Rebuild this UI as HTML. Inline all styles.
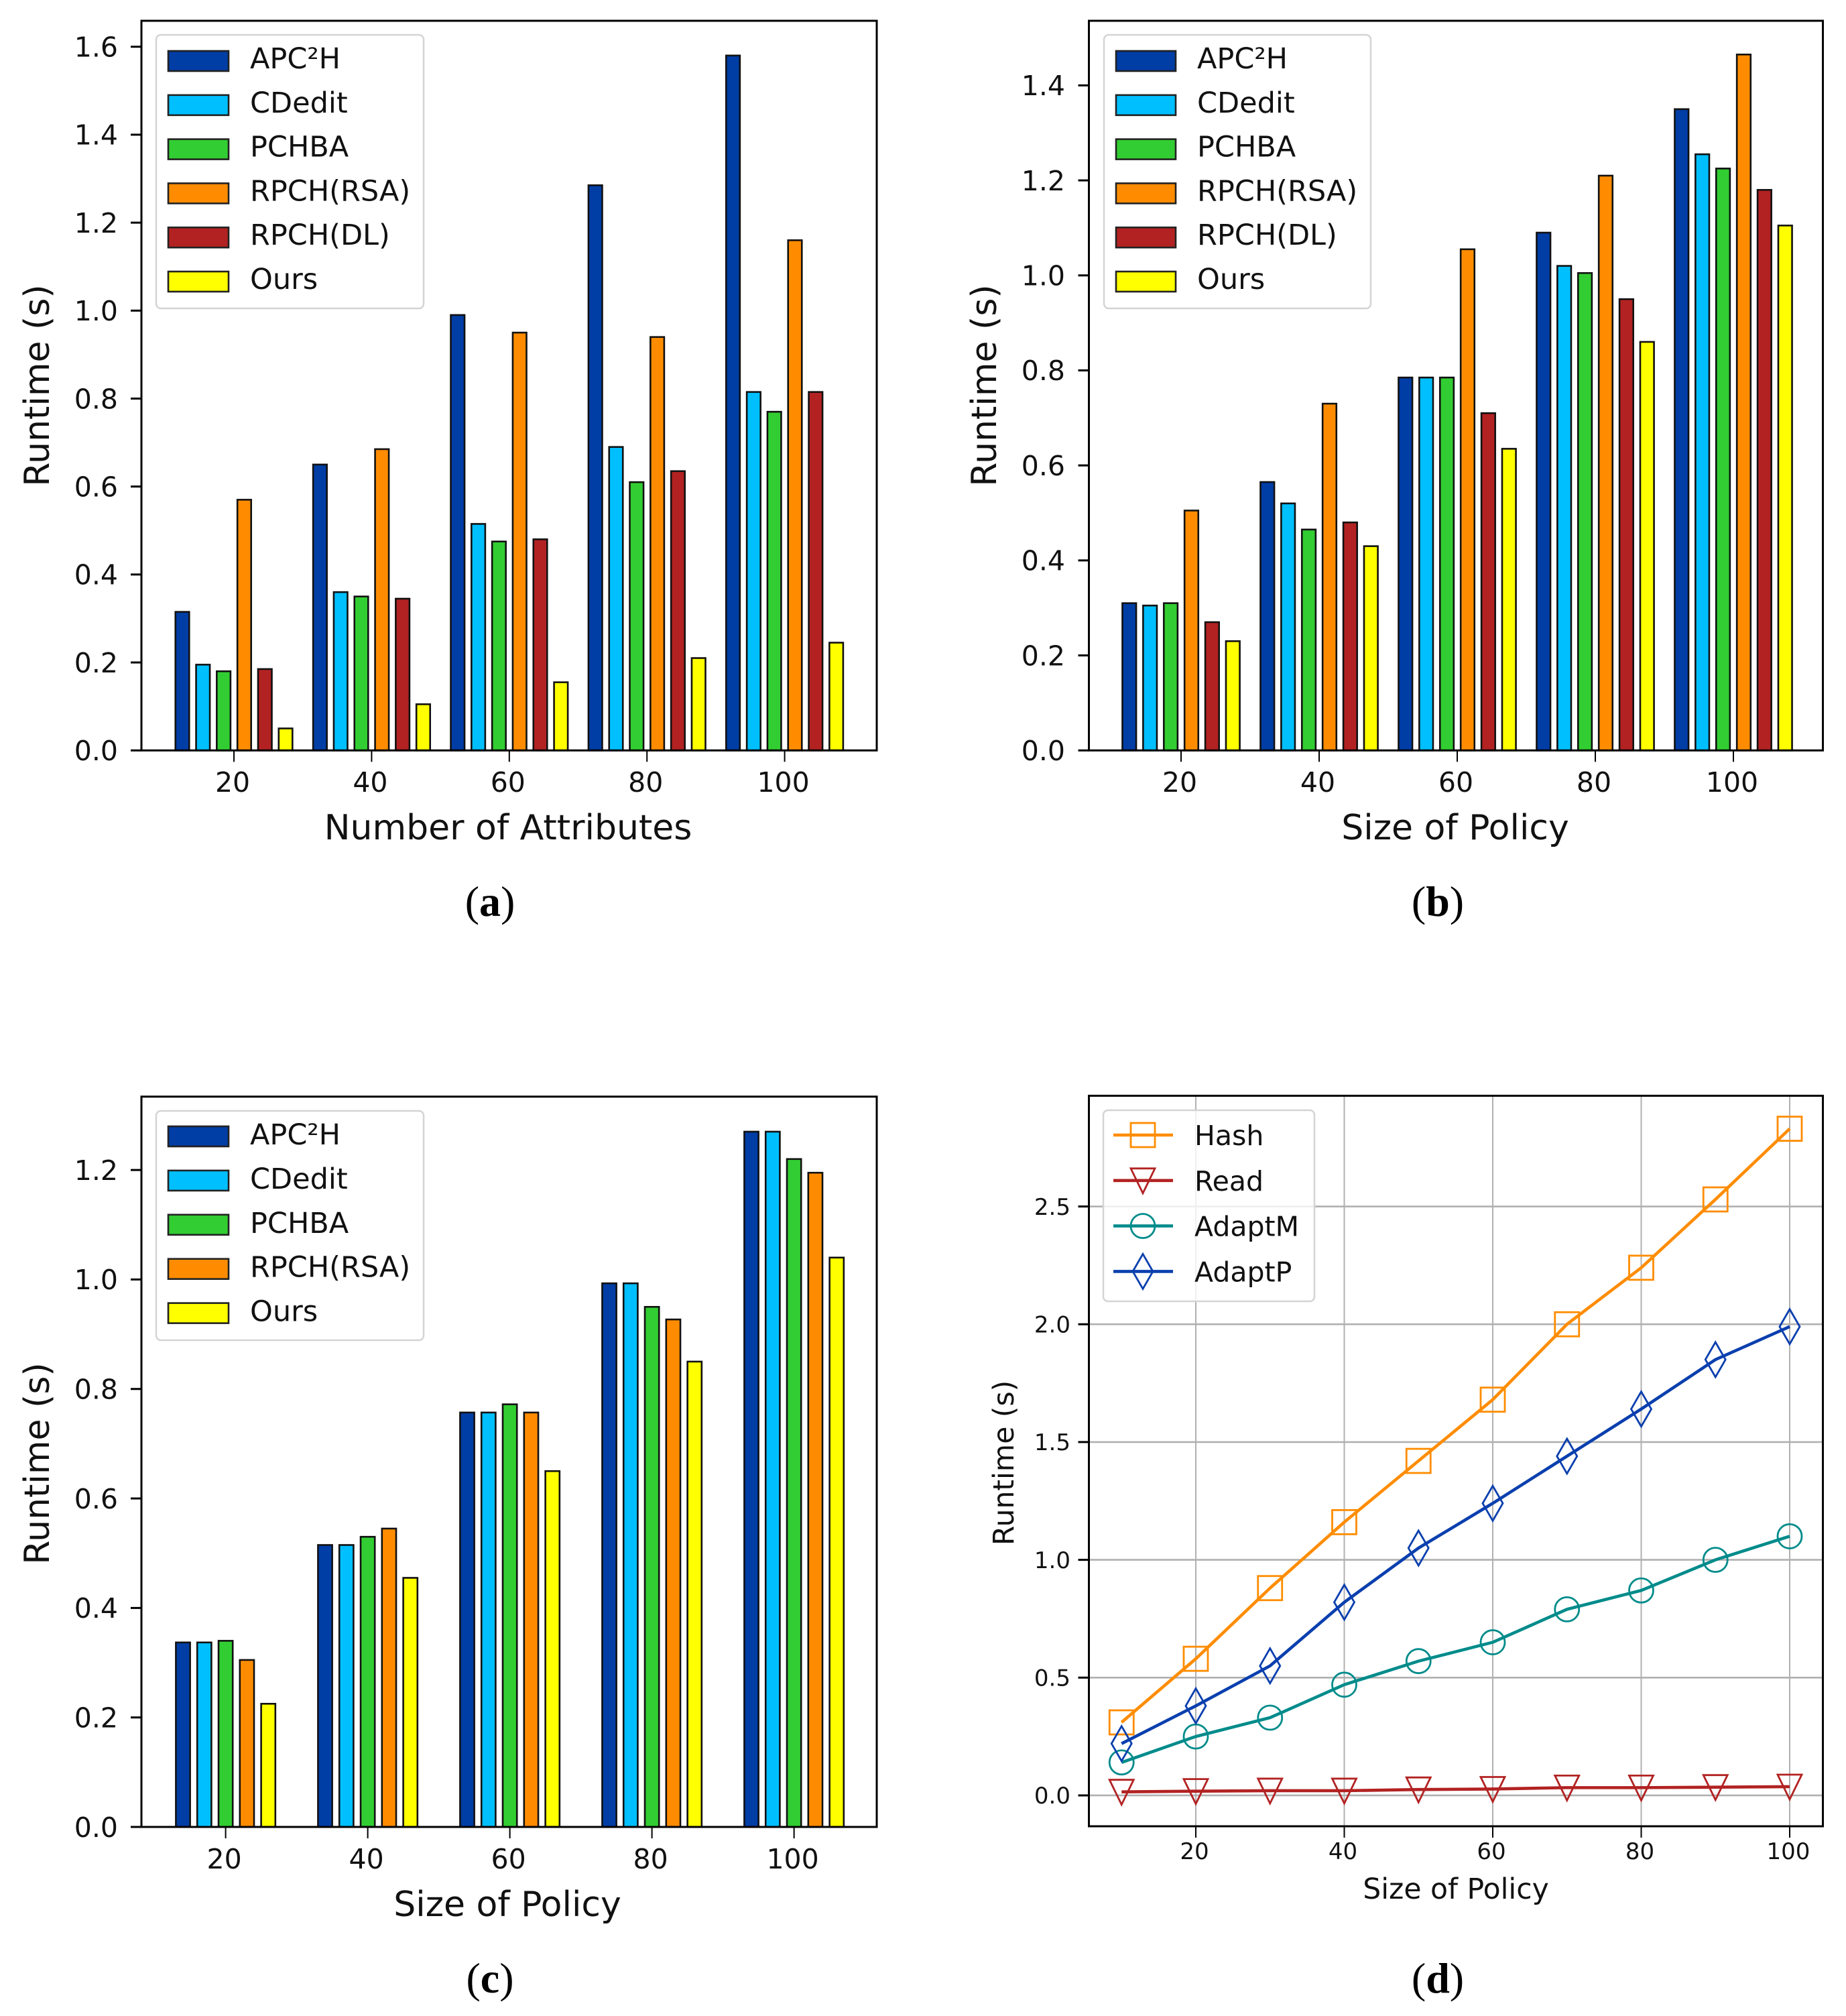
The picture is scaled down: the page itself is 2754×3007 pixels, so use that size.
<!DOCTYPE html>
<html lang="en">
<head>
<meta charset="utf-8">
<title>Runtime comparison charts</title>
<style>
html,body{margin:0;padding:0;background:#fff;width:2754px;height:3007px;overflow:hidden}
svg{display:block}
text{font-family:"DejaVu Sans","Liberation Sans",sans-serif;fill:#111}
.cap{font-family:"Liberation Serif",serif;font-size:64px;fill:#000}
</style>
</head>
<body>
<svg id="fig" xmlns="http://www.w3.org/2000/svg" width="2754" height="3007" viewBox="0 0 2754 3007">
<rect x="0" y="0" width="2754" height="3007" fill="#fff"/>
<text class="cap" x="731" y="1366" text-anchor="middle">(<tspan font-weight="bold">a</tspan>)</text>
<text class="cap" x="2145" y="1366" text-anchor="middle">(<tspan font-weight="bold">b</tspan>)</text>
<text class="cap" x="731" y="2972" text-anchor="middle">(<tspan font-weight="bold">c</tspan>)</text>
<text class="cap" x="2145" y="2972" text-anchor="middle">(<tspan font-weight="bold">d</tspan>)</text>
</svg>
<script>
// Panel (a)
const categoriesA = [20, 40, 60, 80, 100];
const apc2hA = [0.315, 0.65, 0.99, 1.285, 1.58];
const cdeditA = [0.195, 0.36, 0.515, 0.69, 0.815];
const pchbaA = [0.18, 0.35, 0.475, 0.61, 0.77];
const rpchRsaA = [0.57, 0.685, 0.95, 0.94, 1.16];
const rpchDlA = [0.185, 0.345, 0.48, 0.635, 0.815];
const oursA = [0.05, 0.105, 0.155, 0.21, 0.245];
const yTicksA = ["0.0", "0.2", "0.4", "0.6", "0.8", "1.0", "1.2", "1.4", "1.6"];

// Panel (b)
const categoriesB = [20, 40, 60, 80, 100];
const apc2hB = [0.31, 0.565, 0.785, 1.09, 1.35];
const cdeditB = [0.305, 0.52, 0.785, 1.02, 1.255];
const pchbaB = [0.31, 0.465, 0.785, 1.005, 1.225];
const rpchRsaB = [0.505, 0.73, 1.055, 1.21, 1.465];
const rpchDlB = [0.27, 0.48, 0.71, 0.95, 1.18];
const oursB = [0.23, 0.43, 0.635, 0.86, 1.105];
const yTicksB = ["0.0", "0.2", "0.4", "0.6", "0.8", "1.0", "1.2", "1.4"];

// Panel (c)
const categoriesC = [20, 40, 60, 80, 100];
const apc2hC = [0.337, 0.515, 0.757, 0.993, 1.27];
const cdeditC = [0.337, 0.515, 0.757, 0.993, 1.27];
const pchbaC = [0.34, 0.53, 0.772, 0.95, 1.22];
const rpchRsaC = [0.305, 0.545, 0.757, 0.927, 1.195];
const oursC = [0.225, 0.455, 0.65, 0.85, 1.04];
const yTicksC = ["0.0", "0.2", "0.4", "0.6", "0.8", "1.0", "1.2"];

// Panel (d)
const policySizesD = [10, 20, 30, 40, 50, 60, 70, 80, 90, 100];
const hashD = [0.31, 0.58, 0.88, 1.16, 1.42, 1.68, 2.0, 2.24, 2.53, 2.83];
const readD = [0.015, 0.018, 0.02, 0.02, 0.025, 0.027, 0.033, 0.033, 0.035, 0.037];
const adaptMD = [0.14, 0.25, 0.33, 0.47, 0.57, 0.65, 0.79, 0.87, 1.0, 1.1];
const adaptPD = [0.22, 0.38, 0.55, 0.82, 1.05, 1.24, 1.44, 1.64, 1.85, 1.99];
const xTicksD = ["20", "40", "60", "80", "100"];
const yTicksD = ["0.0", "0.5", "1.0", "1.5", "2.0", "2.5"];

const BLUE = "#003da5", CYAN = "#00bfff", GREEN = "#32cd32", ORANGE = "#ff8c00", RED = "#b22222", YELLOW = "#ffff00", TEAL = "#008b8b", LBLUE = "#0a3fae";
const NS = "http://www.w3.org/2000/svg";
const fig = document.getElementById("fig");

function mk(parent, tag, attrs, name, text) {
  const el = document.createElementNS(NS, tag);
  for (const k in attrs) el.setAttribute(k, attrs[k]);
  
  
  if (text !== undefined) el.textContent = text;
  parent.appendChild(el);
  return el;
}

function makeAxes(o) {
  const g = mk(fig, "g", {}, "panel-" + o.id);
  const x = v => o.left + (v - o.xDomain[0]) / (o.xDomain[1] - o.xDomain[0]) * (o.right - o.left);
  const y = v => o.bottom - (v - o.yDomain[0]) / (o.yDomain[1] - o.yDomain[0]) * (o.bottom - o.top);
  return { g, x, y };
}

function drawFrame(o, ax, xLabels, yLabels) {
  const g = ax.g;
  // ticks + labels
  xLabels.forEach(lbl => {
    const px = ax.x(parseFloat(lbl));
    mk(g, "line", { x1: px, x2: px, y1: o.bottom, y2: o.bottom + 17, stroke: "#000", "stroke-width": 2 }, "x-tick-" + lbl);
    mk(g, "text", { x: px - 2, y: o.xTickBase, "text-anchor": "middle", "font-size": o.tickFont }, "x-tick-label-" + lbl, lbl);
  });
  yLabels.forEach(lbl => {
    const py = ax.y(parseFloat(lbl));
    mk(g, "line", { x1: o.left - 16, x2: o.left, y1: py, y2: py, stroke: "#000", "stroke-width": 3 }, "y-tick-" + lbl);
    mk(g, "text", { x: o.yTickRight, y: py + o.tickFont * 0.36, "text-anchor": "end", "font-size": o.tickFont }, "y-tick-label-" + lbl, lbl);
  });
  // spines
  mk(g, "rect", { x: o.left, y: o.top, width: o.right - o.left, height: o.bottom - o.top, fill: "none", stroke: "#000", "stroke-width": 3 }, "plot-frame");
  // titles
  mk(g, "text", { x: o.xLabelX, y: o.xLabelY, "text-anchor": "middle", "font-size": o.xLabelFont }, "x-axis-title", o.xLabel);
  mk(g, "text", { transform: "translate(" + o.yLabelX + "," + o.yLabelY + ") rotate(-90)", "text-anchor": "middle", "font-size": o.yLabelFont }, "y-axis-title", "Runtime (s)");
}

function drawBars(o, ax, categories, series, offsets) {
  series.forEach((s, si) => {
    const sg = mk(ax.g, "g", {}, "series-" + s.key);
    categories.forEach((c, ci) => {
      const px = ax.x(c + offsets[si] - 1);
      const py = ax.y(s.values[ci]);
      mk(sg, "rect", {
        x: px, y: py,
        width: ax.x(c + offsets[si] + 1) - px,
        height: ax.y(0) - py,
        fill: s.color, stroke: "#111", "stroke-width": 2.6
      }, "bar-" + s.key + "-" + c);
    });
  });
}

function drawBarLegend(o, ax, series) {
  const lg = mk(ax.g, "g", {}, "legend");
  mk(lg, "rect", { x: o.leg.x, y: o.leg.y, width: o.leg.w, height: o.leg.h, rx: 7, fill: "#fff", "fill-opacity": 0.8, stroke: "#d4d4d4", "stroke-width": 2.5 }, "legend-frame");
  series.forEach((s, i) => {
    const eg = mk(lg, "g", {}, "legend-entry-" + s.key);
    mk(eg, "rect", { x: o.leg.px, y: o.leg.py + i * o.leg.step, width: o.leg.pw, height: 30, fill: s.color, stroke: "#222", "stroke-width": 2.6 }, "legend-swatch-" + s.key);
    mk(eg, "text", { x: o.leg.tx, y: o.leg.ty + i * o.leg.step, "font-size": o.leg.font, fill: "#222" }, "legend-label-" + s.key, s.label);
  });
}

function marker(parent, kind, cx, cy, color, name) {
  const base = { fill: "none", stroke: color, "stroke-width": 2.8 };
  if (kind === "square") {
    mk(parent, "rect", Object.assign({ x: cx - 18, y: cy - 18, width: 36, height: 36 }, base), name);
  } else if (kind === "circle") {
    mk(parent, "ellipse", Object.assign({ cx: cx, cy: cy, rx: 18, ry: 18 }, base), name);
  } else if (kind === "diamond") {
    const pts = [cx, cy - 26, cx + 15, cy, cx, cy + 26, cx - 15, cy].join(" ");
    mk(parent, "polygon", Object.assign({ points: pts }, base), name);
  } else {
    const pts = [cx - 18, cy - 18, cx + 18, cy - 18, cx, cy + 19].join(" ");
    mk(parent, "polygon", Object.assign({ points: pts }, base), name);
  }
}

const attrLabels = ["APC²H", "CDedit", "PCHBA", "RPCH(RSA)", "RPCH(DL)", "Ours"];
const sixOffsets = [-7.5, -4.5, -1.5, 1.5, 4.5, 7.5];
const fiveOffsets = [-6, -3, 0, 3, 6];

// ---- Panel a
const cfgA = {
  id: "a", left: 211, right: 1308, top: 31, bottom: 1119.3,
  xDomain: [6.56, 113.38], yDomain: [0, 1.659],
  tickFont: 41, xTickBase: 1181, yTickRight: 176,
  xLabel: "Number of Attributes", xLabelX: 758, xLabelY: 1252, xLabelFont: 52,
  yLabelX: 73, yLabelY: 575, yLabelFont: 52,
  leg: { x: 233, y: 52, w: 399, h: 408, px: 251, py: 76, pw: 90, step: 65.8, tx: 373, ty: 102, font: 43 }
};
const axA = makeAxes(cfgA);
const seriesA = [
  { key: "apc2h", label: attrLabels[0], color: BLUE, values: apc2hA },
  { key: "cdedit", label: attrLabels[1], color: CYAN, values: cdeditA },
  { key: "pchba", label: attrLabels[2], color: GREEN, values: pchbaA },
  { key: "rpch-rsa", label: attrLabels[3], color: ORANGE, values: rpchRsaA },
  { key: "rpch-dl", label: attrLabels[4], color: RED, values: rpchDlA },
  { key: "ours", label: attrLabels[5], color: YELLOW, values: oursA }
];
drawBars(cfgA, axA, categoriesA, seriesA, sixOffsets);
drawFrame(cfgA, axA, categoriesA.map(String), yTicksA);
drawBarLegend(cfgA, axA, seriesA);

// ---- Panel b
const cfgB = {
  id: "b", left: 1624.5, right: 2719.5, top: 31, bottom: 1119.3,
  xDomain: [6.65, 112.96], yDomain: [0, 1.536],
  tickFont: 41, xTickBase: 1181, yTickRight: 1589,
  xLabel: "Size of Policy", xLabelX: 2171, xLabelY: 1252, xLabelFont: 52,
  yLabelX: 1486, yLabelY: 575, yLabelFont: 52,
  leg: { x: 1647, y: 52, w: 398, h: 408, px: 1665, py: 76, pw: 89, step: 65.8, tx: 1786, ty: 102, font: 43 }
};
const axB = makeAxes(cfgB);
const seriesB = [
  { key: "apc2h", label: attrLabels[0], color: BLUE, values: apc2hB },
  { key: "cdedit", label: attrLabels[1], color: CYAN, values: cdeditB },
  { key: "pchba", label: attrLabels[2], color: GREEN, values: pchbaB },
  { key: "rpch-rsa", label: attrLabels[3], color: ORANGE, values: rpchRsaB },
  { key: "rpch-dl", label: attrLabels[4], color: RED, values: rpchDlB },
  { key: "ours", label: attrLabels[5], color: YELLOW, values: oursB }
];
drawBars(cfgB, axB, categoriesB, seriesB, sixOffsets);
drawFrame(cfgB, axB, categoriesB.map(String), yTicksB);
drawBarLegend(cfgB, axB, seriesB);

// ---- Panel c
const cfgC = {
  id: "c", left: 211, right: 1308, top: 1635.7, bottom: 2725,
  xDomain: [8.15, 111.64], yDomain: [0, 1.334],
  tickFont: 41, xTickBase: 2787, yTickRight: 176,
  xLabel: "Size of Policy", xLabelX: 757, xLabelY: 2858, xLabelFont: 52,
  yLabelX: 73, yLabelY: 2183, yLabelFont: 52,
  leg: { x: 233, y: 1657, w: 399, h: 342, px: 251, py: 1680, pw: 90, step: 65.9, tx: 373, ty: 1707, font: 43 }
};
const axC = makeAxes(cfgC);
const seriesC = [
  { key: "apc2h", label: attrLabels[0], color: BLUE, values: apc2hC },
  { key: "cdedit", label: attrLabels[1], color: CYAN, values: cdeditC },
  { key: "pchba", label: attrLabels[2], color: GREEN, values: pchbaC },
  { key: "rpch-rsa", label: attrLabels[3], color: ORANGE, values: rpchRsaC },
  { key: "ours", label: attrLabels[5], color: YELLOW, values: oursC }
];
drawBars(cfgC, axC, categoriesC, seriesC, fiveOffsets);
drawFrame(cfgC, axC, categoriesC.map(String), yTicksC);
drawBarLegend(cfgC, axC, seriesC);

// ---- Panel d
const cfgD = {
  id: "d", left: 1624.5, right: 2719.5, top: 1634.4, bottom: 2724,
  xDomain: [5.6, 104.47], yDomain: [-0.131, 2.97],
  tickFont: 34, xTickBase: 2773, yTickRight: 1597,
  xLabel: "Size of Policy", xLabelX: 2172, xLabelY: 2832, xLabelFont: 42.5,
  yLabelX: 1512, yLabelY: 2182, yLabelFont: 42.5
};
const axD = makeAxes(cfgD);
// grid
const gridD = mk(axD.g, "g", {}, "grid");
xTicksD.forEach(l => {
  const px = axD.x(parseFloat(l));
  mk(gridD, "line", { x1: px, x2: px, y1: cfgD.top, y2: cfgD.bottom, stroke: "#b0b0b0", "stroke-width": 2 }, "grid-vertical-" + l);
});
yTicksD.forEach(l => {
  const py = axD.y(parseFloat(l));
  mk(gridD, "line", { x1: cfgD.left, x2: cfgD.right, y1: py, y2: py, stroke: "#b0b0b0", "stroke-width": 2.6 }, "grid-horizontal-" + l);
});
const linesD = [
  { key: "hash", label: "Hash", color: ORANGE, kind: "square", values: hashD },
  { key: "read", label: "Read", color: RED, kind: "triangle", values: readD },
  { key: "adaptm", label: "AdaptM", color: TEAL, kind: "circle", values: adaptMD },
  { key: "adaptp", label: "AdaptP", color: LBLUE, kind: "diamond", values: adaptPD }
];
linesD.forEach(s => {
  const sg = mk(axD.g, "g", {}, "series-" + s.key);
  const pts = policySizesD.map((v, i) => axD.x(v) + "," + axD.y(s.values[i])).join(" ");
  mk(sg, "polyline", { points: pts, fill: "none", stroke: s.color, "stroke-width": 4.6, "stroke-linejoin": "round" }, "line-" + s.key);
  policySizesD.forEach((v, i) => {
    marker(sg, s.kind, axD.x(v), axD.y(s.values[i]), s.color, "marker-" + s.key + "-" + v);
  });
});
drawFrame(cfgD, axD, xTicksD, yTicksD);
const legD = mk(axD.g, "g", {}, "legend");
mk(legD, "rect", { x: 1646, y: 1656, width: 315, height: 285, rx: 7, fill: "#fff", "fill-opacity": 0.8, stroke: "#d4d4d4", "stroke-width": 2.5 }, "legend-frame");
linesD.forEach((s, i) => {
  const ry = 1693 + i * 67.8;
  const eg = mk(legD, "g", {}, "legend-entry-" + s.key);
  mk(eg, "line", { x1: 1661, x2: 1750, y1: ry, y2: ry, stroke: s.color, "stroke-width": 4.6 }, "legend-line-" + s.key);
  marker(eg, s.kind, 1705, ry, s.color, "legend-marker-" + s.key);
  mk(eg, "text", { x: 1782, y: ry + 15, "font-size": 41, fill: "#222" }, "legend-label-" + s.key, s.label);
});
</script>
</body>
</html>
